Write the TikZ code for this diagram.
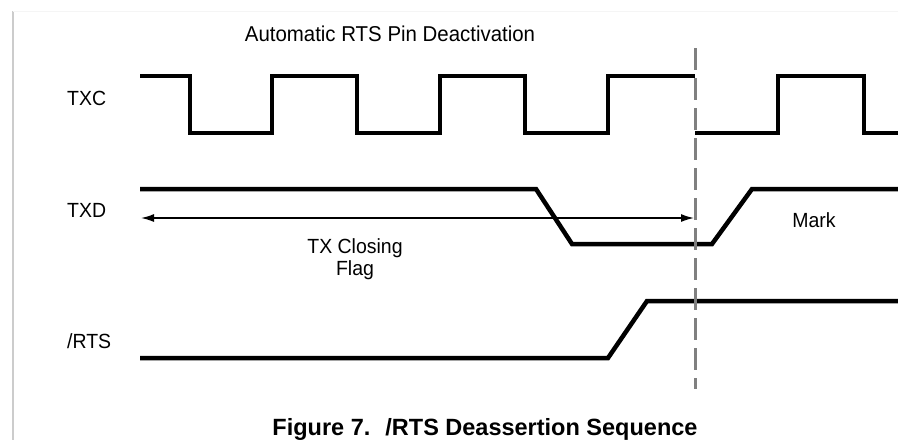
\documentclass[tikz,border=0pt]{standalone}
\usepackage{fontspec}
\setmainfont{Liberation Sans}
\newfontfamily\narrowsans[FakeStretch=0.95]{Liberation Sans}
\usetikzlibrary{arrows.meta}
\tikzset{
  wave/.style={line width=4.5pt, black},
  siglabel/.style={anchor=base west, inner sep=0pt, font=\narrowsans\fontsize{20.5}{22}\selectfont},
  note/.style={anchor=base, inner sep=0pt, align=center, font=\narrowsans\fontsize{20.5}{22}\selectfont},
  span/.style={line width=1.5pt, {Latex[length=13pt,width=8pt]}-{Latex[length=13pt,width=8pt]}},
  marker/.style={line width=3pt, black!50, dash pattern=on 22pt off 8pt},
  frame/.style={line width=1.5pt, black!20}
}
\begin{document}
\begin{tikzpicture}[x=1pt, y=-1pt]
  \useasboundingbox (0,0) rectangle (898,440);
  \fill[white] (0,0) rectangle (898,440);

  % page edge
  \draw[frame] (13,11) -- (13,440);
  \draw[line width=1pt, black!4] (13,11) -- (898,11);

  % heading
  \node[note, font=\narrowsans\fontsize{21.5}{23}\selectfont] (title) at (390,41) {Automatic RTS Pin Deactivation};

  % signal names
  \node[siglabel] (txc) at (67,105) {TXC};
  \node[siglabel] (txd) at (67,217) {TXD};
  \node[siglabel] (rts) at (67,348) {/RTS};

  % TXC clock
  \draw[wave] (140,76) -- (190,76) -- (190,133) -- (272,133) -- (272,76)
    -- (357,76) -- (357,133) -- (440,133) -- (440,76)
    -- (525,76) -- (525,133) -- (608,133) -- (608,76) -- (695,76);
  \draw[wave] (695,133) -- (778,133) -- (778,76) -- (864,76) -- (864,133) -- (898,133);

  % TXD data
  \draw[wave] (140,189) -- (536,189) -- (572,244) -- (712,244) -- (752,189) -- (898,189);

  % /RTS
  \draw[wave] (140,358) -- (608,358) -- (647,301) -- (898,301);

  % deactivation instant
  \coordinate (cutTop) at (695,48);
  \coordinate (cutBot) at (695,389);
  \draw[marker] (cutTop) -- (cutBot);

  % closing flag span
  \coordinate (flagL) at (141,218);
  \coordinate (flagR) at (694,218);
  \draw[span] (flagL) -- (flagR);

  \node[note] (flag) at (355,253) {TX Closing};
  \node[note] (flag2) at (355,275) {Flag};
  \node[note] (mark) at (814,227) {Mark};

  % caption
  \node[anchor=base, inner sep=0pt, font=\bfseries\fontsize{23.5}{25}\selectfont] (caption) at (485,435)
    {Figure 7.\hspace{15pt}/RTS Deassertion Sequence};
\end{tikzpicture}
\end{document}
